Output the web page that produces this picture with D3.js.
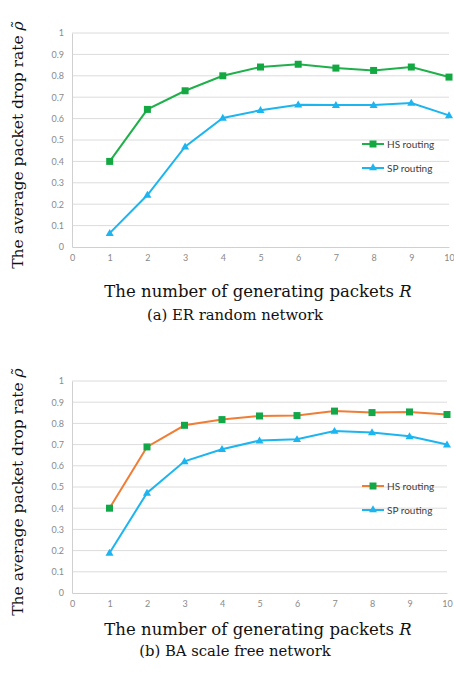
<!DOCTYPE html>
<html>
<head>
<meta charset="utf-8">
<script src="https://cdn.jsdelivr.net/npm/d3@7/dist/d3.min.js"></script>
<style>
  body { margin: 0; background: #fff; }
</style>
</head>
<body>
<div id="container"></div>
<script>
// Data
var packets = [1, 2, 3, 4, 5, 6, 7, 8, 9, 10];
var xTicks = [0, 1, 2, 3, 4, 5, 6, 7, 8, 9, 10];
var yTicks = [0, 0.1, 0.2, 0.3, 0.4, 0.5, 0.6, 0.7, 0.8, 0.9, 1];

// (a) ER random network
var erHS = [0.40, 0.643, 0.730, 0.800, 0.841, 0.854, 0.836, 0.825, 0.841, 0.794];
var erSP = [0.065, 0.243, 0.469, 0.603, 0.639, 0.665, 0.663, 0.663, 0.673, 0.615];

// (b) BA scale free network
var baHS = [0.40, 0.689, 0.791, 0.818, 0.835, 0.837, 0.858, 0.851, 0.854, 0.842];
var baSP = [0.189, 0.472, 0.621, 0.678, 0.719, 0.725, 0.764, 0.757, 0.739, 0.700];

var width = 454,
    height = 690;

var svg = d3.select("#container")
            .append("svg")
              .attr("width", width)
              .attr("height", height);

drawPanel({
  top: 33, bottom: 247, left: 72, right: 449,
  hs: erHS, sp: erSP,
  hsLine: "#1fb04b", hsMark: "#14a843",
  legendY: 144,
  labelY: 50, captionY: 73,
  caption: "(a) ER random network"
});

drawPanel({
  top: 381, bottom: 593, left: 72, right: 447,
  hs: baHS, sp: baSP,
  hsLine: "#f07d35", hsMark: "#12a84a",
  legendY: 486,
  labelY: 42, captionY: 63,
  caption: "(b) BA scale free network"
});

function drawPanel(p) {
  var spColor = "#1cb5f0";

  var x = d3.scaleLinear().domain([0, 10]).range([p.left, p.right]);
  var y = d3.scaleLinear().domain([0, 1]).range([p.bottom, p.top]);

  var g = svg.append("g");

  // Gridlines
  g.selectAll(".grid")
    .data(yTicks.slice(1))
    .enter()
    .append("line")
      .attr("x1", p.left)
      .attr("x2", p.right)
      .attr("y1", function(d) { return y(d); })
      .attr("y2", function(d) { return y(d); })
      .attr("stroke", "#dcdcdc")
      .attr("stroke-width", 1);

  // Axes
  var yAxis = d3.axisLeft(y).tickValues(yTicks).tickSize(0).tickPadding(8)
                .tickFormat(function(d) { return d3.format("")(+d.toFixed(1)); });
  var xAxis = d3.axisBottom(x).tickValues(xTicks).tickSize(0).tickPadding(8);

  var ya = g.append("g")
            .attr("transform", "translate(" + p.left + ",0)")
            .call(yAxis);
  var xa = g.append("g")
            .attr("transform", "translate(0," + p.bottom + ")")
            .call(xAxis);

  [ya, xa].forEach(function(a) {
    a.select(".domain").attr("stroke", "#d0d0d0");
    a.selectAll("text")
      .attr("fill", "#8a8a8a")
      .style("font-family", "Lato, 'Open Sans', sans-serif")
      .style("font-size", "9px");
  });

  var line = d3.line()
               .x(function(d, i) { return x(packets[i]); })
               .y(function(d) { return y(d); });

  // HS routing
  g.append("path")
    .datum(p.hs)
    .attr("d", line)
    .attr("fill", "none")
    .attr("stroke", p.hsLine)
    .attr("stroke-width", 2);

  g.selectAll(".hs")
    .data(p.hs)
    .enter()
    .append("rect")
      .attr("x", function(d, i) { return x(packets[i]) - 3.5; })
      .attr("y", function(d) { return y(d) - 3.5; })
      .attr("width", 7)
      .attr("height", 7)
      .attr("fill", p.hsMark);

  // SP routing
  g.append("path")
    .datum(p.sp)
    .attr("d", line)
    .attr("fill", "none")
    .attr("stroke", spColor)
    .attr("stroke-width", 2);

  var tri = d3.symbol().type(d3.symbolTriangle).size(28);
  g.selectAll(".sp")
    .data(p.sp)
    .enter()
    .append("path")
      .attr("d", tri)
      .attr("transform", function(d, i) { return "translate(" + x(packets[i]) + "," + (y(d) + 0.5) + ")"; })
      .attr("fill", spColor);

  // Legend
  var legend = [
    { name: "HS routing", line: p.hsLine, mark: p.hsMark, sq: true },
    { name: "SP routing", line: spColor, mark: spColor, sq: false }
  ];
  var lg = g.selectAll(".legend")
            .data(legend)
            .enter()
            .append("g")
              .attr("transform", function(d, i) { return "translate(362," + (p.legendY + i * 24) + ")"; });

  lg.append("line")
    .attr("x1", 0).attr("x2", 22)
    .attr("stroke", function(d) { return d.line; })
    .attr("stroke-width", 2);

  lg.append("path")
    .attr("d", function(d) {
      return d.sq ? "M-3.5,-3.5h7v7h-7z" : tri();
    })
    .attr("transform", "translate(11,0)")
    .attr("fill", function(d) { return d.mark; });

  lg.append("text")
    .attr("x", 25)
    .attr("y", 3.5)
    .text(function(d) { return d.name; })
    .attr("fill", "#404040")
    .style("font-family", "Lato, 'Open Sans', sans-serif")
    .style("font-size", "10px");

  // Axis titles
  var cy = (p.top + p.bottom) / 2 + 5;
  var yt = g.append("text")
            .attr("transform", "translate(23," + cy + ") rotate(-90)")
            .attr("text-anchor", "middle")
            .style("font-family", "'DejaVu Serif', serif")
            .style("font-size", "15.5px")
            .attr("fill", "#111");
  yt.append("tspan").text("The average packet drop rate ");
  yt.append("tspan").style("font-style", "italic").text("ρ̃");

  var xt = g.append("text")
            .attr("x", 258)
            .attr("y", p.bottom + p.labelY)
            .attr("text-anchor", "middle")
            .style("font-family", "'DejaVu Serif', serif")
            .style("font-size", "16.5px")
            .attr("fill", "#111");
  xt.append("tspan").text("The number of generating packets ");
  xt.append("tspan").style("font-style", "italic").text("R");

  g.append("text")
    .attr("x", 235)
    .attr("y", p.bottom + p.captionY)
    .attr("text-anchor", "middle")
    .style("font-family", "'DejaVu Serif', serif")
    .style("font-size", "14.8px")
    .attr("fill", "#111")
    .text(p.caption);
}
</script>
</body>
</html>
